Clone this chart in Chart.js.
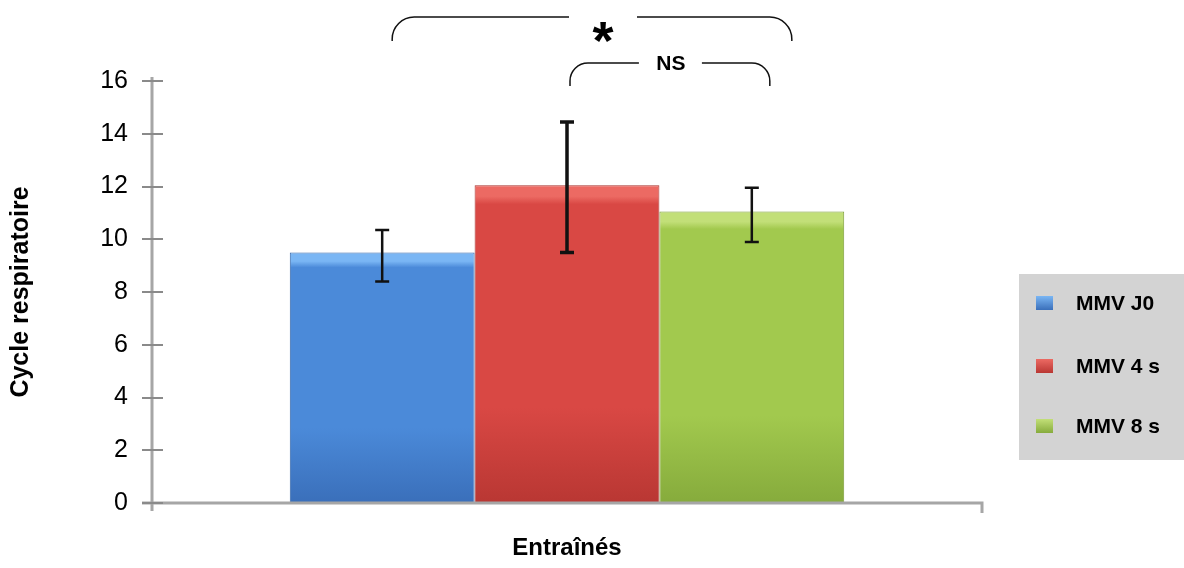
<!DOCTYPE html>
<html>
<head>
<meta charset="utf-8">
<script src="https://cdn.jsdelivr.net/npm/chart.js@4.4.0/dist/chart.umd.min.js"></script>
<style>
  body { margin: 0; background: #fff; }
</style>
</head>
<body>
<canvas id="myChart" width="1184" height="568"></canvas>
<script>
// one group, three series, mean with error range
const groups = ['Entraînés'];
const seriesNames = ['MMV J0', 'MMV 4 s', 'MMV 8 s'];
const means = [9.5, 12.05, 11.05];
const errLow = [8.4, 9.5, 9.9];
const errHigh = [10.35, 14.45, 11.95];
const yTicks = [0, 2, 4, 6, 8, 10, 12, 14, 16];

const palette = [
  { light: '#7ab6f4', body: '#4b8ad9', dark: '#3a6fba', edge: '#3666a8' },
  { light: '#ec6a63', body: '#d94844', dark: '#b93733', edge: '#a9302c' },
  { light: '#c2df78', body: '#a2c94e', dark: '#86ab3c', edge: '#7a9c36' }
];

const font = "'Liberation Sans', Arial, sans-serif";

function barFill(i) {
  return (c) => {
    const chart = c.chart;
    const p = palette[i];
    if (!chart.chartArea) return p.body;
    const y = chart.scales.y;
    const top = y.getPixelForValue(c.raw);
    const bottom = y.getPixelForValue(0);
    const g = chart.ctx.createLinearGradient(0, top, 0, bottom);
    g.addColorStop(0, p.light);
    g.addColorStop(0.035, p.light);
    g.addColorStop(0.06, p.body);
    g.addColorStop(0.7, p.body);
    g.addColorStop(1, p.dark);
    return g;
  };
}

const axisLines = {
  id: 'axisLines',
  afterDatasetsDraw(chart) {
    const { ctx, chartArea: a, scales: { y } } = chart;
    ctx.save();
    ctx.strokeStyle = '#a6a6a6';
    ctx.lineWidth = 3;
    ctx.beginPath();
    ctx.moveTo(a.left, a.top - 4);
    ctx.lineTo(a.left, a.bottom + 8);
    ctx.moveTo(a.left - 10, a.bottom);
    ctx.lineTo(a.right, a.bottom);
    ctx.lineTo(a.right, a.bottom + 10);
    ctx.stroke();
    ctx.strokeStyle = '#8a8a8a';
    ctx.lineWidth = 2;
    ctx.beginPath();
    y.ticks.forEach(t => {
      const py = Math.round(y.getPixelForValue(t.value));
      ctx.moveTo(a.left - 10, py);
      ctx.lineTo(a.left + 11, py);
    });
    ctx.stroke();
    ctx.restore();
  }
};

const errorBars = {
  id: 'errorBars',
  afterDatasetsDraw(chart) {
    const { ctx, scales: { y } } = chart;
    ctx.save();
    ctx.strokeStyle = '#111';
    chart.data.datasets.forEach((ds, i) => {
      const bar = chart.getDatasetMeta(i).data[0];
      const hi = y.getPixelForValue(errHigh[i]);
      const lo = y.getPixelForValue(errLow[i]);
      ctx.lineWidth = i === 1 ? 3.5 : 2.5;
      ctx.beginPath();
      ctx.moveTo(bar.x, hi);
      ctx.lineTo(bar.x, lo);
      ctx.moveTo(bar.x - 7, hi);
      ctx.lineTo(bar.x + 7, hi);
      ctx.moveTo(bar.x - 7, lo);
      ctx.lineTo(bar.x + 7, lo);
      ctx.stroke();
    });
    ctx.restore();
  }
};

// significance brackets between bar centres
function bracket(ctx, x1, x2, yTop, yEnd, gapL, gapR, r) {
  ctx.beginPath();
  ctx.moveTo(x1, yEnd);
  ctx.arcTo(x1, yTop, x1 + r, yTop, r);
  ctx.lineTo(gapL, yTop);
  ctx.moveTo(gapR, yTop);
  ctx.arcTo(x2, yTop, x2, yEnd, r);
  ctx.lineTo(x2, yEnd);
  ctx.stroke();
}

const brackets = {
  id: 'brackets',
  afterDraw(chart) {
    const { ctx } = chart;
    const xs = chart.data.datasets.map((d, i) => chart.getDatasetMeta(i).data[0].x);
    ctx.save();
    ctx.strokeStyle = '#111';
    ctx.lineWidth = 1.5;
    ctx.fillStyle = '#000';
    ctx.textAlign = 'center';
    ctx.textBaseline = 'middle';

    const b1 = xs[0] + 10, b2 = xs[2] + 40;
    const star = (b1 + b2) / 2 + 11;
    bracket(ctx, b1, b2, 17, 41, star - 34, star + 34, 22);
    ctx.font = 'bold 54px ' + font;
    ctx.fillText('*', star, 44);

    const s1 = xs[1] + 3, s2 = xs[2] + 18;
    const mid2 = (s1 + s2) / 2;
    bracket(ctx, s1, s2, 63, 86, mid2 - 31, mid2 + 32, 18);
    ctx.font = 'bold 21px ' + font;
    ctx.fillText('NS', mid2 + 1, 64);
    ctx.restore();
  }
};

const sideLegend = {
  id: 'sideLegend',
  afterDraw(chart) {
    const { ctx } = chart;
    ctx.save();
    ctx.fillStyle = '#d3d3d3';
    ctx.fillRect(1019, 274, 170, 186);
    const rows = [303, 366, 426];
    ctx.font = 'bold 21px ' + font;
    ctx.textBaseline = 'middle';
    chart.data.datasets.forEach((ds, i) => {
      const p = palette[i];
      const g = ctx.createLinearGradient(0, rows[i] - 7, 0, rows[i] + 7);
      g.addColorStop(0, p.light);
      g.addColorStop(1, p.dark);
      ctx.fillStyle = g;
      ctx.fillRect(1036, rows[i] - 7, 17, 14);
      ctx.fillStyle = '#000';
      ctx.fillText(ds.label, 1076, rows[i] + 1);
    });
    ctx.restore();
  }
};

const ctx = document.getElementById('myChart').getContext('2d');
new Chart(ctx, {
  type: 'bar',
  data: {
    labels: groups,
    datasets: seriesNames.map((name, i) => ({
      label: name,
      data: [means[i]],
      backgroundColor: barFill(i),
      borderColor: palette[i].edge,
      borderWidth: 1,
      categoryPercentage: 0.668,
      barPercentage: 1
    }))
  },
  options: {
    responsive: false,
    animation: false,
    layout: { padding: { top: 81, right: 202, left: 0, bottom: 0 } },
    plugins: { legend: { display: false }, tooltip: { enabled: false } },
    scales: {
      x: {
        grid: { display: false },
        border: { display: false },
        ticks: { display: false },
        title: {
          display: true,
          text: groups[0],
          color: '#000',
          font: { family: font, size: 24, weight: 'bold' },
          padding: { top: 0, bottom: 5 }
        },
        afterFit: s => { s.height = 65; }
      },
      y: {
        min: 0,
        max: 16,
        afterBuildTicks: s => { s.ticks = yTicks.map(v => ({ value: v })); },
        grid: { display: false, drawTicks: false },
        border: { display: false },
        ticks: { padding: 24, color: '#000', font: { family: font, size: 25 } },
        title: {
          display: true,
          text: 'Cycle respiratoire',
          color: '#000',
          font: { family: font, size: 25, weight: 'bold' },
          padding: { top: 6, bottom: 0 }
        },
        afterFit: s => { s.width = 152; }
      }
    }
  },
  plugins: [axisLines, errorBars, brackets, sideLegend]
});
</script>
</body>
</html>
